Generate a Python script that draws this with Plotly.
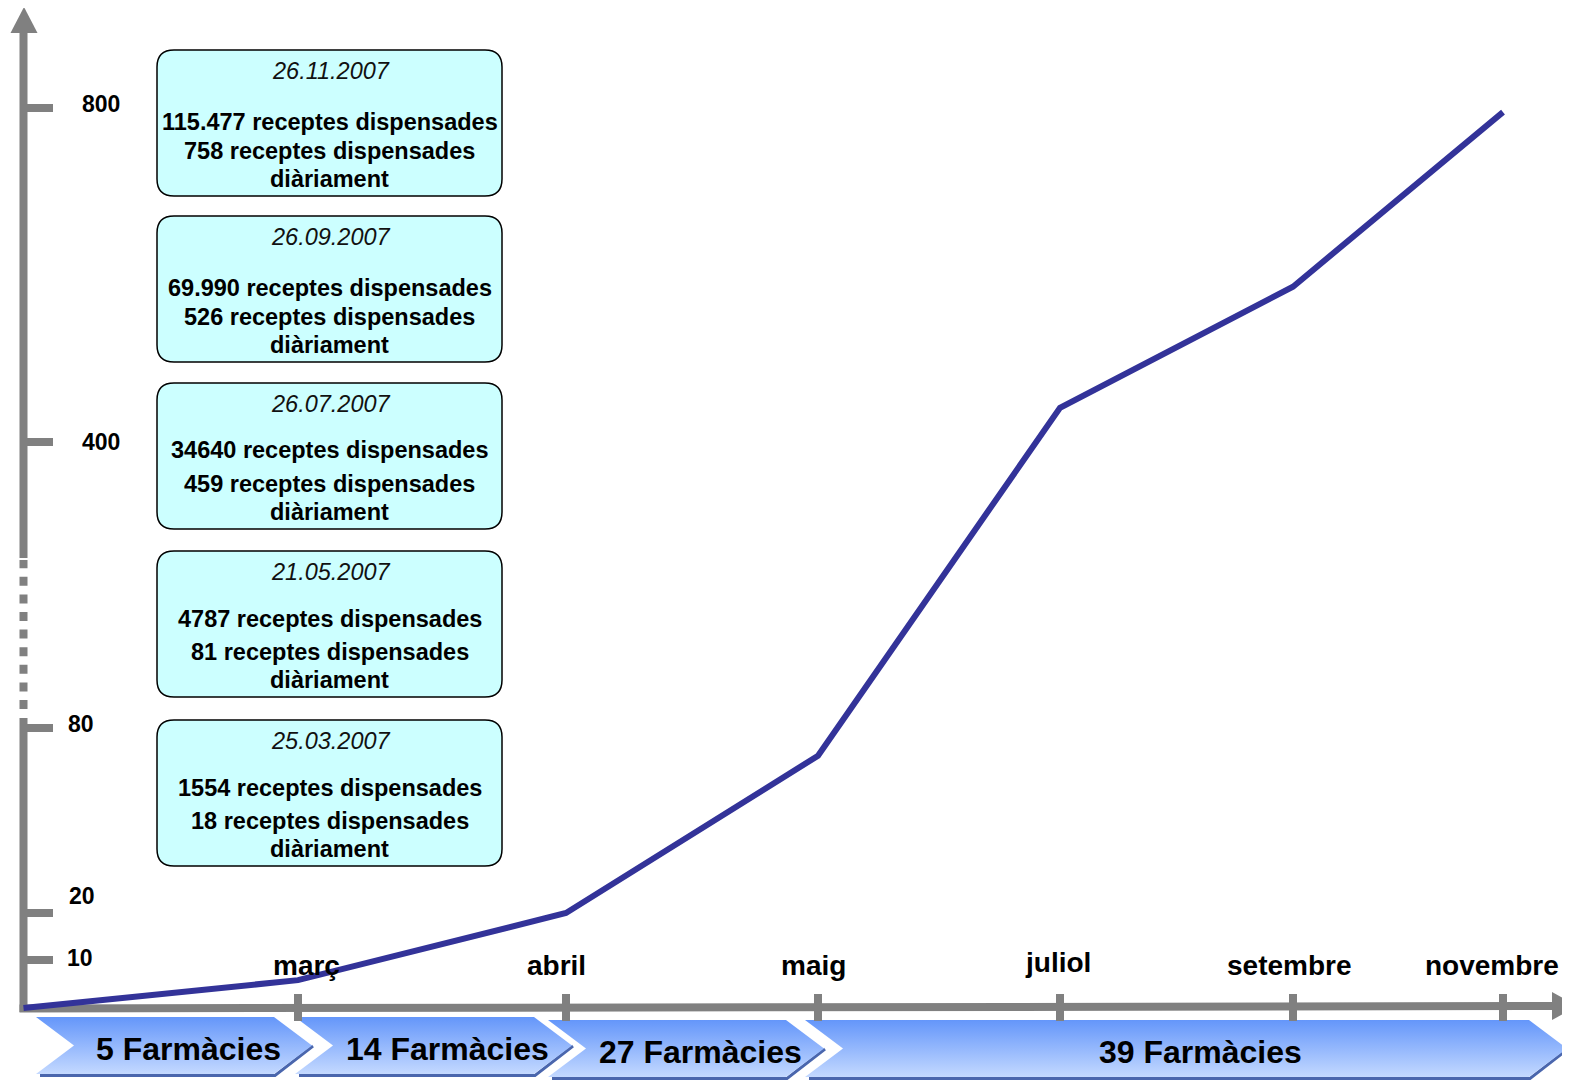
import numpy as np
import plotly.graph_objects as go

# ---------------- data ----------------
months = ["març", "abril", "maig", "juliol", "setembre", "novembre"]
values = [5.8, 20, 71, 441, 586, 795]          # daily prescriptions
y_ticks = [10, 20, 80, 400, 800]
y_tick_text = ["10", "20", "80", "400", "800"]
phases = ["5 Farmàcies", "14 Farmàcies", "27 Farmàcies", "39 Farmàcies"]
box_dates = ["26.11.2007", "26.09.2007", "26.07.2007", "21.05.2007", "25.03.2007"]
box_totals = ["115.477 receptes dispensades", "69.990 receptes dispensades",
              "34640 receptes dispensades", "4787 receptes dispensades",
              "1554 receptes dispensades"]
box_daily = ["758 receptes dispensades", "526 receptes dispensades",
             "459 receptes dispensades", "81 receptes dispensades",
             "18 receptes dispensades"]
box_tail = "diàriament"

# ---------------- layout / geometry ----------------
W, H = 1570, 1086
PAGE_OFF = 8          # default page margin of the html body
ORIGIN = 1008


def ry(row):
    return ORIGIN - row


AXIS_X = 23.5
month_x = [298, 566, 818, 1060, 1293, 1503]
# broken (piecewise) value scale
scale_v = [0, 10, 20, 80, 400, 800]
scale_p = [0, 48, 95, 280, 566, 900]


def ypos(v):
    return np.interp(v, scale_v, scale_p)


GRAY = "#808080"
FONT = "Liberation Sans, Arial, sans-serif"
fig = go.Figure()


def line_trace(x, y, color=GRAY, width=8, dash=None):
    fig.add_trace(go.Scatter(x=x, y=y, mode="lines",
                             line=dict(color=color, width=width, dash=dash),
                             hoverinfo="skip", showlegend=False))


def fill_trace(x, y, color):
    fig.add_trace(go.Scatter(x=x, y=y, mode="lines", fill="toself",
                             fillcolor=color, line=dict(width=0),
                             hoverinfo="skip", showlegend=False))


annotations = []

# ---- chevrons (phases) ----
chev_left = [36, 295, 548, 805]
chev_tip = [312, 572, 824, 1567]
chev_top = [1017, 1017, 1020, 1020]
chev_h = 57
notch = 38
for i, label in enumerate(phases):
    L, T, top = chev_left[i], chev_tip[i], chev_top[i]
    bot = top + chev_h
    mid = top + chev_h / 2
    line_trace([L + 4, T - notch + 1, T + 1],
               [ry(bot + 1.5), ry(bot + 1.5), ry(mid + 0.5)],
               color="#4a66ad", width=3)
    xs = [L, T - notch, T, T - notch, L, L + notch, L]
    ys = [ry(top), ry(top), ry(mid), ry(bot), ry(bot), ry(mid), ry(top)]
    fig.add_trace(go.Scatter(
        x=xs, y=ys, mode="lines", fill="toself", line=dict(width=0),
        fillgradient=dict(type="vertical",
                          colorscale=[[0, "#c4d9ff"], [1, "#6496fa"]]),
        hoverinfo="skip", showlegend=False))
    annotations.append(dict(
        x=(L + notch + T) / 2 - 5, y=ry(mid + 3), text=f"<b>{label}</b>",
        showarrow=False, xanchor="center", yanchor="middle",
        font=dict(family=FONT, size=32, color="black")))

# ---- axes ----
line_trace([AXIS_X, AXIS_X], [ry(1012), ry(718)])
line_trace([AXIS_X, AXIS_X], [ry(709), ry(560)], dash="9px,8.6px")
line_trace([AXIS_X, AXIS_X], [ry(558), ry(30)])
fill_trace([10.5, 37.5, 24, 10.5], [ry(33), ry(33), ry(7), ry(33)], GRAY)
line_trace([19.5, 1558], [ry(1008.5), ry(1006)])
fill_trace([1552, 1552, 1578, 1552], [ry(992), ry(1020), ry(1006), ry(992)], GRAY)

# y ticks
tx, ty = [], []
for v in y_ticks:
    tx += [AXIS_X, 53, None]
    ty += [ypos(v), ypos(v), None]
line_trace(tx, ty)
# x ticks
tx, ty = [], []
for mx in month_x:
    tx += [mx, mx, None]
    ty += [ry(994), ry(1021), None]
line_trace(tx, ty)

# ---- data line ----
fig.add_trace(go.Scatter(
    x=[AXIS_X] + month_x, y=[0] + list(ypos(values)), mode="lines",
    line=dict(color="#333399", width=6), hoverinfo="skip", showlegend=False))

# ---- axis labels ----
ylab_x = [80, 82, 81, 101, 101]
ylab_shift = [2, 17, 4, 0, 4]
for v, t, lx, sh in zip(y_ticks, y_tick_text, ylab_x, ylab_shift):
    annotations.append(dict(x=lx, y=ypos(v) + sh, text=f"<b>{t}</b>",
                            showarrow=False, xanchor="center", yanchor="middle",
                            font=dict(family=FONT, size=23, color="black")))
xlab_shift = [8, -10, -5, -2, -4, -11]
xlab_row = [965, 965, 965, 962, 965, 965]
for m, mx, sh, r in zip(months, month_x, xlab_shift, xlab_row):
    annotations.append(dict(x=mx + sh, y=ry(r), text=f"<b>{m}</b>",
                            showarrow=False, xanchor="center", yanchor="middle",
                            font=dict(family=FONT, size=28, color="black")))

# ---- info boxes ----
shapes = []
box_x0, box_x1 = 157, 502
box_tops = [50, 216, 383, 551, 720]
box_h = 146
rad = 17
line1_off = [72, 72, 67, 68, 68]
for i, top in enumerate(box_tops):
    yt, yb = ry(top), ry(top + box_h)
    x0, x1, r = box_x0, box_x1, rad
    path = (f"M {x0 + r},{yt} L {x1 - r},{yt} Q {x1},{yt} {x1},{yt - r} "
            f"L {x1},{yb + r} Q {x1},{yb} {x1 - r},{yb} L {x0 + r},{yb} "
            f"Q {x0},{yb} {x0},{yb + r} L {x0},{yt - r} Q {x0},{yt} {x0 + r},{yt} Z")
    shapes.append(dict(type="path", path=path, xref="x", yref="y",
                       fillcolor="#ccffff", line=dict(color="black", width=1.5),
                       layer="above"))
    cx = (x0 + x1) / 2
    annotations.append(dict(x=cx + 1.5, y=ry(top + 21), text=f"<i>{box_dates[i]}</i>",
                            showarrow=False, xanchor="center", yanchor="middle",
                            font=dict(family=FONT, size=23.5, color="#111111")))
    for txt, off in [(box_totals[i], line1_off[i]), (box_daily[i], 100.5),
                     (box_tail, 128.5)]:
        annotations.append(dict(x=cx, y=ry(top + off), text=f"<b>{txt}</b>",
                                showarrow=False, xanchor="center", yanchor="middle",
                                font=dict(family=FONT, size=23.5, color="black")))

fig.update_layout(
    width=W - PAGE_OFF, height=H - PAGE_OFF,
    margin=dict(l=0, r=0, t=0, b=0, pad=0),
    paper_bgcolor="white", plot_bgcolor="white",
    xaxis=dict(range=[PAGE_OFF, W], visible=False, fixedrange=True),
    yaxis=dict(range=[ORIGIN - H, ORIGIN - PAGE_OFF], visible=False, fixedrange=True),
    showlegend=False, hovermode=False,
    shapes=shapes, annotations=annotations,
)

fig.write_html("out.html")
